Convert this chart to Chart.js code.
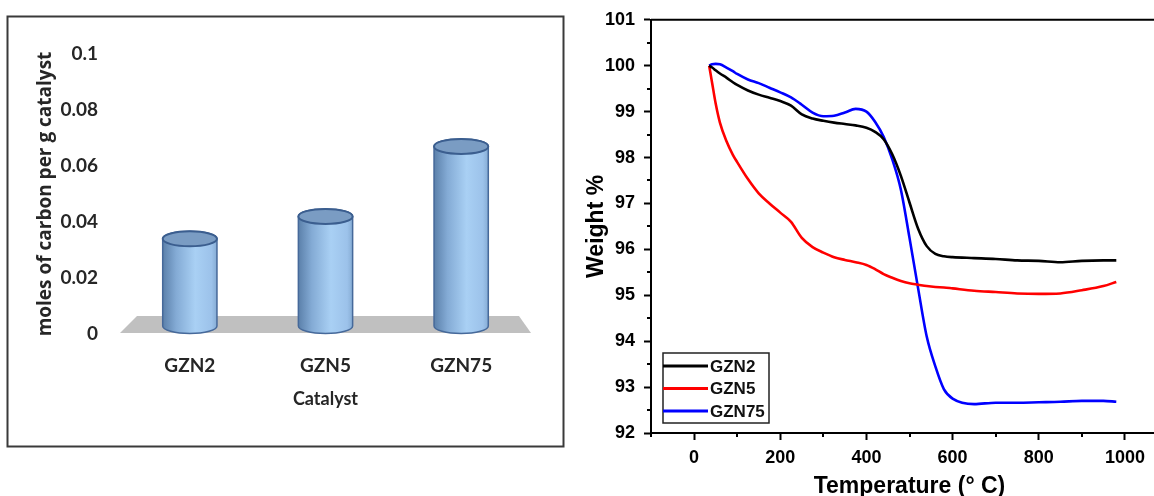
<!DOCTYPE html>
<html>
<head>
<meta charset="utf-8">
<script src="https://cdn.jsdelivr.net/npm/chart.js@4"></script>
<style>
  html, body { margin: 0; padding: 0; background: #fff; overflow: hidden; }
  body { width: 1154px; height: 496px; position: relative; }
  #barChart { position: absolute; left: 0; top: 0; }
  #tgaChart { position: absolute; left: 575px; top: 0; }
</style>
</head>
<body>
<canvas id="barChart" width="575" height="496"></canvas>
<canvas id="tgaChart" width="600" height="496"></canvas>
<script>
// -----------------------------
// Data
// -----------------------------
const catalysts = ["GZN2", "GZN5", "GZN75"]
const carbonMoles = [0.034, 0.042, 0.067]
const carbonTicks = [0, 0.02, 0.04, 0.06, 0.08, 0.1]

const temperature = [35, 42, 50, 60, 75, 90, 100, 125, 150, 175, 200, 225, 250, 275, 300, 325, 350, 375, 400,
  420, 440, 460, 480, 500, 520, 540, 560, 580, 600, 650, 700, 750, 800, 850, 900, 950, 980]
const weightGZN2 = [100, 99.96, 99.9, 99.83, 99.74, 99.64, 99.58, 99.46, 99.37, 99.3, 99.23, 99.13, 98.94, 98.85, 98.8, 98.76, 98.73, 98.7, 98.65,
  98.56, 98.4, 98.07, 97.6, 97.02, 96.45, 96.07, 95.9, 95.85, 95.83, 95.81, 95.79, 95.76, 95.75, 95.72, 95.75, 95.76, 95.76]
const weightGZN5 = [100, 99.62, 99.18, 98.76, 98.36, 98.06, 97.9, 97.53, 97.22, 97.0, 96.8, 96.6, 96.25, 96.05, 95.93, 95.83, 95.77, 95.72, 95.66,
  95.57, 95.46, 95.38, 95.31, 95.26, 95.23, 95.2, 95.18, 95.17, 95.15, 95.1, 95.07, 95.04, 95.03, 95.04, 95.11, 95.2, 95.29]
const weightGZN75 = [100, 100.03, 100.04, 100.03, 99.96, 99.88, 99.82, 99.7, 99.62, 99.52, 99.42, 99.31, 99.15, 98.98, 98.9, 98.91, 98.98, 99.06, 99.0,
  98.78, 98.45, 97.96, 97.3, 96.25, 95.15, 94.1, 93.45, 92.95, 92.75, 92.63, 92.66, 92.66, 92.67, 92.68, 92.7, 92.7, 92.68]

const seriesNames = ["GZN2", "GZN5", "GZN75"]
const seriesColors = ["#000000", "#ff0000", "#0000ff"]

// -----------------------------
// Bar chart plugins (frame, floor, cylinders)
// -----------------------------
const framePlugin = {
  id: "frame",
  beforeDraw(chart) {
    const ctx = chart.ctx
    ctx.save()
    ctx.strokeStyle = "#3a3a3a"
    ctx.lineWidth = 2
    ctx.strokeRect(7.5, 16.5, 556, 430)
    ctx.restore()
  }
}

const floorPlugin = {
  id: "floor",
  beforeDatasetsDraw(chart) {
    const { ctx, chartArea } = chart
    const y0 = chart.scales.y.getPixelForValue(0)
    ctx.save()
    ctx.fillStyle = "#c0c0c0"
    ctx.beginPath()
    ctx.moveTo(chartArea.left - 2, y0 - 1)
    ctx.lineTo(chartArea.right + 2, y0 - 1)
    ctx.lineTo(chartArea.right - 10, y0 - 18)
    ctx.lineTo(chartArea.left + 15, y0 - 18)
    ctx.closePath()
    ctx.fill()
    ctx.restore()
  }
}

const cylinderPlugin = {
  id: "cylinder",
  afterDatasetsDraw(chart) {
    const ctx = chart.ctx
    chart.getDatasetMeta(0).data.forEach(bar => {
      const rx = bar.width / 2
      const ry = 7.5
      const top = bar.y
      const bottom = bar.base - 8
      const left = bar.x - rx
      const right = bar.x + rx

      const grad = ctx.createLinearGradient(left, 0, right, 0)
      grad.addColorStop(0, "#5b80aa")
      grad.addColorStop(0.25, "#84abd5")
      grad.addColorStop(0.6, "#a9d0f4")
      grad.addColorStop(0.9, "#9cc2ea")
      grad.addColorStop(1, "#86acd4")

      ctx.save()
      ctx.beginPath()
      ctx.moveTo(left, top)
      ctx.lineTo(left, bottom)
      ctx.ellipse(bar.x, bottom, rx, ry, 0, Math.PI, 0, true)
      ctx.lineTo(right, top)
      ctx.ellipse(bar.x, top, rx, ry, 0, 0, Math.PI, true)
      ctx.closePath()
      ctx.fillStyle = grad
      ctx.fill()
      ctx.lineWidth = 1.5
      ctx.strokeStyle = "#46699a"
      ctx.stroke()

      ctx.beginPath()
      ctx.ellipse(bar.x, top, rx, ry, 0, 0, Math.PI * 2)
      ctx.fillStyle = "#7a9cc3"
      ctx.fill()
      ctx.lineWidth = 2
      ctx.strokeStyle = "#3b5e8f"
      ctx.stroke()
      ctx.restore()
    })
  }
}

function renderBarChart() {
  const tickFont = { family: "Lato", weight: "bold", size: 19 }
  new Chart(document.getElementById("barChart"), {
    type: "bar",
    data: {
      labels: catalysts,
      datasets: [{
        data: carbonMoles,
        backgroundColor: "rgba(0,0,0,0)",
        borderWidth: 0,
        barPercentage: 0.8,
        categoryPercentage: 0.5
      }]
    },
    options: {
      responsive: false,
      animation: false,
      layout: { padding: { left: 0, right: 46, top: 54, bottom: 0 } },
      plugins: { legend: { display: false }, tooltip: { enabled: false } },
      scales: {
        x: {
          grid: { display: false, drawTicks: false },
          border: { display: false },
          ticks: { color: "#262626", font: tickFont, padding: 20 },
          title: {
            display: true, text: "Catalyst", color: "#262626",
            font: { family: "Lato", weight: "bold", size: 18 },
            padding: { top: 0, bottom: 86 }
          },
          afterFit(scale) { scale.height = 162 }
        },
        y: {
          min: 0,
          max: 0.1,
          afterBuildTicks(scale) { scale.ticks = carbonTicks.map(v => ({ value: v })) },
          grid: { display: false, drawTicks: false },
          border: { display: false },
          ticks: { color: "#262626", font: tickFont, padding: 24, callback: v => String(v) },
          title: {
            display: true, text: "moles of carbon per g catalyst", color: "#262626",
            font: { family: "Open Sans", weight: "bold", size: 19 },
            padding: { top: 34, bottom: 0 }
          },
          afterFit(scale) { scale.width = 122 }
        }
      }
    },
    plugins: [framePlugin, floorPlugin, cylinderPlugin]
  })
}

// -----------------------------
// TGA chart plugins (box, minor ticks, legend)
// -----------------------------
const boxPlugin = {
  id: "box",
  afterDraw(chart) {
    const { ctx, chartArea, scales } = chart
    ctx.save()
    ctx.strokeStyle = "#000"
    ctx.lineWidth = 2
    ctx.beginPath()
    ctx.moveTo(chartArea.left, chartArea.top)
    ctx.lineTo(chartArea.right, chartArea.top)
    ctx.lineTo(chartArea.right, chartArea.bottom)
    ctx.stroke()

    // minor ticks
    scales.y.ticks.forEach(t => {
      if (t.value % 1 !== 0) {
        const py = Math.round(scales.y.getPixelForValue(t.value))
        ctx.beginPath()
        ctx.moveTo(chartArea.left - 4, py)
        ctx.lineTo(chartArea.left, py)
        ctx.stroke()
      }
    })
    scales.x.ticks.forEach(t => {
      if (t.value % 200 !== 0) {
        const px = Math.round(scales.x.getPixelForValue(t.value))
        ctx.beginPath()
        ctx.moveTo(px, chartArea.bottom)
        ctx.lineTo(px, chartArea.bottom + 4)
        ctx.stroke()
      }
    })
    ctx.restore()
  }
}

const legendPlugin = {
  id: "boxLegend",
  afterDraw(chart) {
    const { ctx, chartArea } = chart
    const x0 = chartArea.left + 12
    const y1 = chartArea.bottom - 10
    const h = 70
    const w = 106
    ctx.save()
    ctx.fillStyle = "#fff"
    ctx.fillRect(x0, y1 - h, w, h)
    ctx.strokeStyle = "#222"
    ctx.lineWidth = 1.5
    ctx.strokeRect(x0, y1 - h, w, h)
    ctx.font = "bold 17px 'Liberation Sans', Arial, sans-serif"
    ctx.textBaseline = "middle"
    chart.data.datasets.forEach((ds, i) => {
      const ly = y1 - h + 13 + i * 22.5
      ctx.strokeStyle = ds.borderColor
      ctx.lineWidth = 3
      ctx.beginPath()
      ctx.moveTo(x0, ly)
      ctx.lineTo(x0 + 45, ly)
      ctx.stroke()
      ctx.fillStyle = "#111"
      ctx.fillText(ds.label, x0 + 47, ly + 1)
    })
    ctx.restore()
  }
}

function renderTgaChart() {
  const weights = [weightGZN2, weightGZN5, weightGZN75]
  const axisFont = { family: "Liberation Sans", weight: "bold", size: 18 }
  const titleFont = { family: "Liberation Sans", weight: "bold", size: 23 }

  new Chart(document.getElementById("tgaChart"), {
    type: "line",
    data: {
      datasets: seriesNames.map((name, i) => ({
        label: name,
        data: temperature.map((t, j) => ({ x: t, y: weights[i][j] })),
        borderColor: seriesColors[i],
        borderWidth: 2.6,
        pointRadius: 0,
        cubicInterpolationMode: "monotone",
        fill: false
      }))
    },
    options: {
      responsive: false,
      animation: false,
      layout: { padding: { left: 0, right: 7, top: 19, bottom: 0 } },
      plugins: { legend: { display: false }, tooltip: { enabled: false } },
      scales: {
        x: {
          type: "linear",
          min: -100,
          max: 1100,
          ticks: {
            stepSize: 100,
            autoSkip: false,
            maxRotation: 0,
            color: "#000",
            font: axisFont,
            padding: 7,
            callback: v => (v >= 0 && v <= 1000 && v % 200 === 0) ? v : ""
          },
          grid: {
            drawOnChartArea: false,
            tickLength: 7,
            tickWidth: 2,
            tickColor: c => (c.tick && c.tick.value % 200 === 0) ? "#000" : "rgba(0,0,0,0)"
          },
          border: { color: "#000", width: 2 },
          title: {
            display: true, text: "Temperature (\u00B0 C)", color: "#000",
            font: titleFont, padding: { top: 0, bottom: -4 }
          },
          afterFit(scale) { scale.height = 63 }
        },
        y: {
          min: 92,
          max: 101,
          ticks: {
            stepSize: 0.5,
            autoSkip: false,
            color: "#000",
            font: axisFont,
            padding: 9,
            callback: v => v % 1 === 0 ? v : ""
          },
          grid: {
            drawOnChartArea: false,
            tickLength: 7,
            tickWidth: 2,
            tickColor: c => (c.tick && c.tick.value % 1 === 0) ? "#000" : "rgba(0,0,0,0)"
          },
          border: { color: "#000", width: 2 },
          title: {
            display: true, text: "Weight %", color: "#000",
            font: titleFont, padding: { top: 8, bottom: 0 }
          },
          afterFit(scale) { scale.width = 76 }
        }
      }
    },
    plugins: [boxPlugin, legendPlugin]
  })
}

// -----------------------------
// Init
// -----------------------------
renderBarChart()
renderTgaChart()
</script>
</body>
</html>
